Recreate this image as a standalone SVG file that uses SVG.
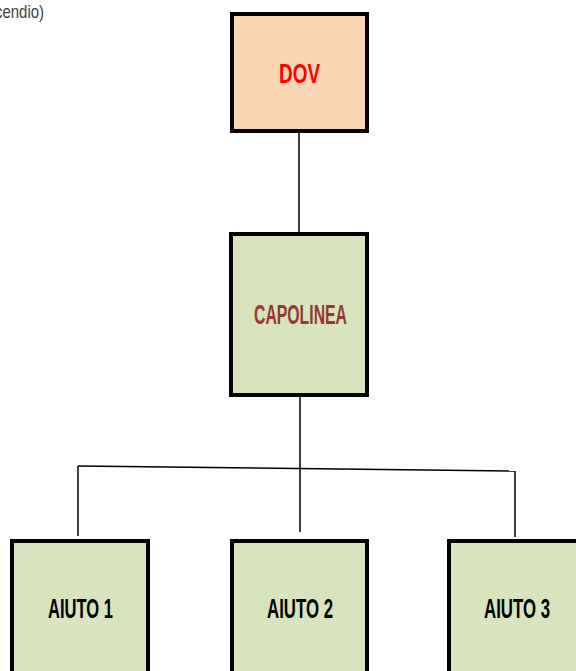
<svg xmlns="http://www.w3.org/2000/svg" width="576" height="671" viewBox="0 0 576 671">
<style>
.box{stroke:#000;stroke-width:4}
.peach{fill:#FBD4B4}
.green{fill:#D7E4BD}
.lbl{font-family:"Liberation Sans",Arial,sans-serif;font-weight:bold;font-size:27px;text-anchor:middle}
.conn{stroke:#000;stroke-width:1.5;fill:none}
</style>
<rect width="576" height="671" fill="#fff"/>
<text x="44" y="18" font-family="Liberation Sans,Arial,sans-serif" font-size="19" fill="#404040" text-anchor="end" textLength="49" lengthAdjust="spacingAndGlyphs">cendio)</text>
<g id="connectors">
<line class="conn" x1="299" y1="133" x2="299" y2="232"/>
<line class="conn" x1="300" y1="397" x2="300" y2="469"/>
<line class="conn" x1="78" y1="466" x2="515" y2="471"/>
<line class="conn" x1="78" y1="466" x2="78" y2="536"/>
<line class="conn" x1="300" y1="469" x2="300" y2="532"/>
<line class="conn" x1="515" y1="471" x2="515" y2="537"/>
</g>
<g id="dov">
<rect class="box peach" x="232" y="14" width="135" height="117"/>
<text class="lbl" x="299.5" y="83" fill="#FF0000" textLength="41" lengthAdjust="spacingAndGlyphs">DOV</text>
</g>
<g id="capolinea">
<rect class="box green" x="231" y="234" width="136" height="161"/>
<text class="lbl" x="300.5" y="324" fill="#953735" textLength="93" lengthAdjust="spacingAndGlyphs">CAPOLINEA</text>
</g>
<g id="aiuto1">
<rect class="box green" x="12" y="541" width="136" height="160"/>
<text class="lbl" x="80.5" y="618" fill="#000" textLength="65" lengthAdjust="spacingAndGlyphs">AIUTO 1</text>
</g>
<g id="aiuto2">
<rect class="box green" x="232" y="541" width="135" height="160"/>
<text class="lbl" x="300" y="618" fill="#000" textLength="66" lengthAdjust="spacingAndGlyphs">AIUTO 2</text>
</g>
<g id="aiuto3">
<rect class="box green" x="449" y="541" width="136" height="160"/>
<text class="lbl" x="517" y="618" fill="#000" textLength="66" lengthAdjust="spacingAndGlyphs">AIUTO 3</text>
</g>
</svg>
